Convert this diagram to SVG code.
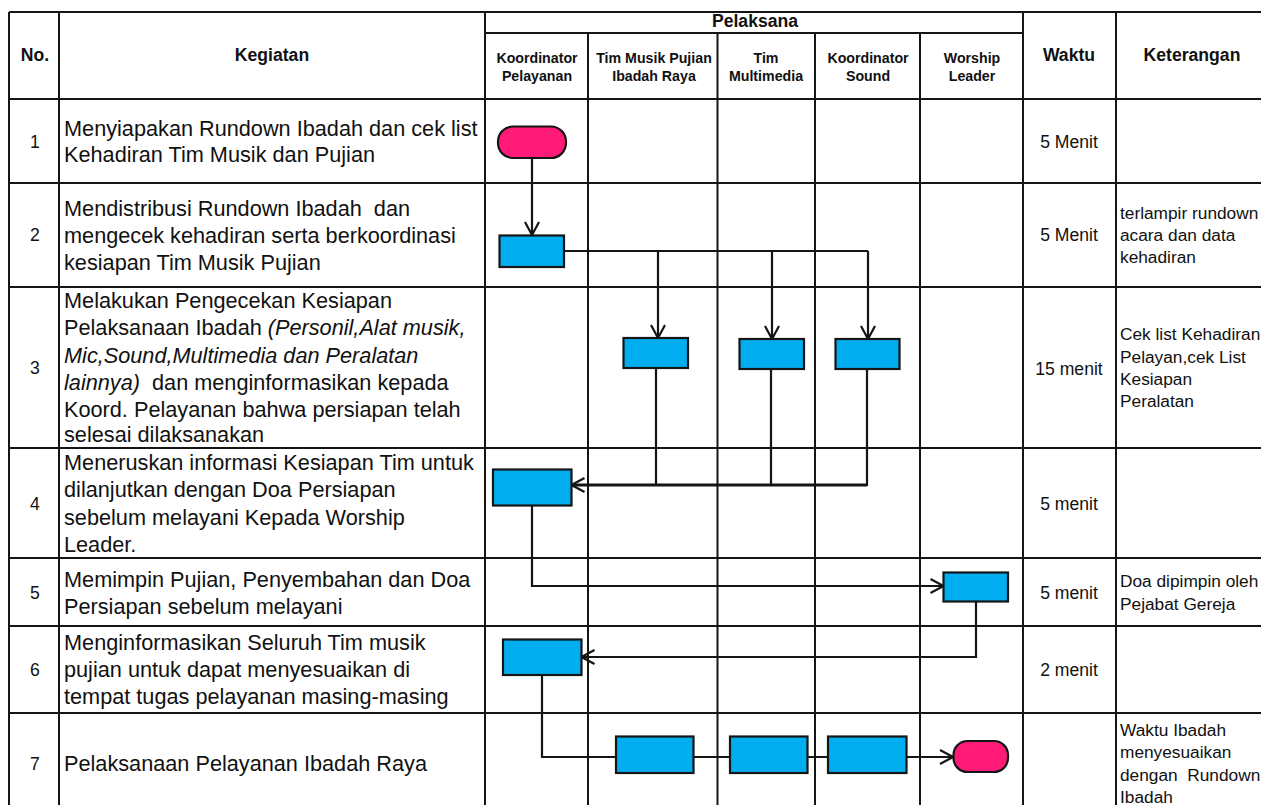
<svg xmlns="http://www.w3.org/2000/svg" width="1261" height="805" viewBox="0 0 1261 805">
<style>
text{font-family:"Liberation Sans",Arial,sans-serif;fill:#111}
.grid{stroke:#151515;stroke-width:2;fill:none}
.h{font-weight:bold;font-size:17.6px;text-anchor:middle}
.s{font-weight:bold;font-size:14.2px;text-anchor:middle}
.n{font-size:17.6px;text-anchor:middle}
.k{font-size:21.7px}
.c{font-size:17.3px}
.b{fill:#00aeef;stroke:#151515;stroke-width:2.2}
.t{fill:#ff1a78;stroke:#151515;stroke-width:2.2}
.w{stroke:#151515;stroke-width:2.2;fill:none}
.a{stroke:#151515;stroke-width:2.2;fill:none;marker-end:url(#ar)}
</style>
<defs>
<marker id="ar" markerUnits="userSpaceOnUse" markerWidth="16" markerHeight="18" refX="14" refY="9" orient="auto"><path d="M1 2L14 9L1 16" fill="none" stroke="#151515" stroke-width="2.200"/></marker>
</defs>
<rect width="1261" height="805" fill="#fff"/>
<g id="grid" class="grid">
<path d="M9 12H1261M485 33H1023M9 99H1261M9 183H1261M9 287H1261M9 448H1261M9 558H1261M9 626H1261M9 713H1261"/>
<path d="M9 12V805M59 12V805M485 12V805M588 33V805M717.500 33V805M815 33V805M920 33V805M1023 12V805M1116 12V805"/>
</g>
<g id="header">
<text class="h" x="35" y="61">No.</text>
<text class="h" x="272" y="61">Kegiatan</text>
<text class="h" x="755" y="27">Pelaksana</text>
<text class="s" x="537" y="63">Koordinator</text><text class="s" x="537" y="81">Pelayanan</text>
<text class="s" x="654" y="63">Tim Musik Pujian</text><text class="s" x="654" y="81">Ibadah Raya</text>
<text class="s" x="766" y="63">Tim</text><text class="s" x="766" y="81">Multimedia</text>
<text class="s" x="868" y="63">Koordinator</text><text class="s" x="868" y="81">Sound</text>
<text class="s" x="972" y="63">Worship</text><text class="s" x="972" y="81">Leader</text>
<text class="h" x="1069" y="61">Waktu</text>
<text class="h" x="1192" y="61">Keterangan</text>
</g>
<g id="numbers">
<text class="n" x="35" y="148">1</text><text class="n" x="35" y="241">2</text><text class="n" x="35" y="374">3</text><text class="n" x="35" y="510">4</text><text class="n" x="35" y="599">5</text><text class="n" x="35" y="676">6</text><text class="n" x="35" y="770">7</text>
</g>
<g id="kegiatan">
<text class="k" x="64" y="136">Menyiapakan Rundown Ibadah dan cek list</text>
<text class="k" x="64" y="162">Kehadiran Tim Musik dan Pujian</text>
<text class="k" x="64" y="216" xml:space="preserve">Mendistribusi Rundown Ibadah  dan</text>
<text class="k" x="64" y="243">mengecek kehadiran serta berkoordinasi</text>
<text class="k" x="64" y="270">kesiapan Tim Musik Pujian</text>
<text class="k" x="64" y="308">Melakukan Pengecekan Kesiapan</text>
<text class="k" x="64" y="335">Pelaksanaan Ibadah <tspan font-style="italic">(Personil,Alat musik,</tspan></text>
<text class="k" x="64" y="363" font-style="italic">Mic,Sound,Multimedia dan Peralatan</text>
<text class="k" x="64" y="390" xml:space="preserve"><tspan font-style="italic">lainnya)</tspan>  dan menginformasikan kepada</text>
<text class="k" x="64" y="417">Koord. Pelayanan bahwa persiapan telah</text>
<text class="k" x="64" y="442">selesai dilaksanakan</text>
<text class="k" x="64" y="470">Meneruskan informasi Kesiapan Tim untuk</text>
<text class="k" x="64" y="497">dilanjutkan dengan Doa Persiapan</text>
<text class="k" x="64" y="525">sebelum melayani Kepada Worship</text>
<text class="k" x="64" y="552">Leader.</text>
<text class="k" x="64" y="587">Memimpin Pujian, Penyembahan dan Doa</text>
<text class="k" x="64" y="614">Persiapan sebelum melayani</text>
<text class="k" x="64" y="650">Menginformasikan Seluruh Tim musik</text>
<text class="k" x="64" y="677">pujian untuk dapat menyesuaikan di</text>
<text class="k" x="64" y="704">tempat tugas pelayanan masing-masing</text>
<text class="k" x="64" y="771">Pelaksanaan Pelayanan Ibadah Raya</text>
</g>
<g id="waktu">
<text class="n" x="1069" y="148">5 Menit</text><text class="n" x="1069" y="241">5 Menit</text><text class="n" x="1069" y="375">15 menit</text><text class="n" x="1069" y="510">5 menit</text><text class="n" x="1069" y="599">5 menit</text><text class="n" x="1069" y="676">2 menit</text>
</g>
<g id="keterangan">
<text class="c" x="1120" y="219">terlampir rundown</text><text class="c" x="1120" y="241">acara dan data</text><text class="c" x="1120" y="263">kehadiran</text>
<text class="c" x="1120" y="340">Cek list Kehadiran</text><text class="c" x="1120" y="363">Pelayan,cek List</text><text class="c" x="1120" y="385">Kesiapan</text><text class="c" x="1120" y="407">Peralatan</text>
<text class="c" x="1120" y="587">Doa dipimpin oleh</text><text class="c" x="1120" y="610">Pejabat Gereja</text>
<text class="c" x="1120" y="736">Waktu Ibadah</text><text class="c" x="1120" y="758">menyesuaikan</text><text class="c" x="1120" y="781" xml:space="preserve">dengan  Rundown</text><text class="c" x="1120" y="803">Ibadah</text>
</g>
<g id="connectors">
<path class="a" d="M532 158V235"/>
<path class="w" d="M564 251H868"/>
<path class="a" d="M658 251V338"/>
<path class="a" d="M772 251V339"/>
<path class="a" d="M868 251V339"/>
<path class="w" d="M656 368V486M771 369V486M867 369V486"/>
<path class="a" d="M867 485H571.500" style="stroke-width:2.800"/>
<path class="a" d="M532 505V586H943.500"/>
<path class="a" d="M976 601V657H581.500"/>
<path class="w" d="M542 675V757H616"/>
<path class="w" d="M693 757H730M807 757H828"/>
<path class="a" d="M906 757H953"/>
</g>
<g id="start"><rect class="t" x="498" y="126.500" width="68" height="31.500" rx="15"/></g>
<g id="step2"><rect class="b" x="499.500" y="235.500" width="64.500" height="31.500"/></g>
<g id="step3a"><rect class="b" x="623.500" y="338" width="64.500" height="30"/></g>
<g id="step3b"><rect class="b" x="739.500" y="339" width="64.500" height="30"/></g>
<g id="step3c"><rect class="b" x="835.500" y="339" width="64" height="30"/></g>
<g id="step4"><rect class="b" x="493" y="469.500" width="78.500" height="36"/></g>
<g id="step5"><rect class="b" x="943.500" y="572.500" width="64.500" height="29"/></g>
<g id="step6"><rect class="b" x="503" y="639.500" width="78.500" height="35.500"/></g>
<g id="step7a"><rect class="b" x="616" y="736.500" width="77.500" height="36.500"/></g>
<g id="step7b"><rect class="b" x="730" y="736.500" width="77.500" height="36.500"/></g>
<g id="step7c"><rect class="b" x="828" y="736.500" width="78.500" height="36.500"/></g>
<g id="end"><rect class="t" x="953.500" y="741" width="54.500" height="31" rx="14"/></g>
</svg>
